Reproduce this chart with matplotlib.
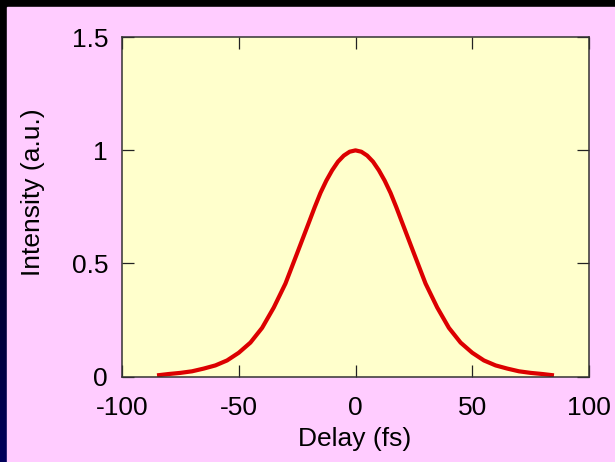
import matplotlib
matplotlib.use("Agg")
import matplotlib.pyplot as plt
import numpy as np
from matplotlib.patches import Rectangle

# values
delay_fs = [-85, -80, -75, -70, -65, -60, -55, -50, -45, -40, -35, -30, -25,
            -20, -17.5, -15, -12.5, -10, -7.5, -5, -2.5, 0, 2.5, 5, 7.5, 10,
            12.5, 15, 17.5, 20, 25, 30, 35, 40, 45, 50, 55, 60, 65, 70, 75,
            80, 85]
intensity = [0.005, 0.011, 0.016, 0.023, 0.035, 0.049, 0.071, 0.105, 0.150,
             0.215, 0.305, 0.411, 0.545, 0.680, 0.748, 0.812, 0.866, 0.912,
             0.950, 0.977, 0.994, 1.000, 0.994, 0.977, 0.950, 0.912, 0.866,
             0.812, 0.748, 0.680, 0.545, 0.411, 0.305, 0.215, 0.150, 0.105,
             0.071, 0.049, 0.035, 0.023, 0.016, 0.011, 0.005]
x_ticks = [-100, -50, 0, 50, 100]
x_tick_labels = ["-100", "-50", "0", "50", "100"]
y_ticks = [0, 0.5, 1, 1.5]
y_tick_labels = ["0", "0.5", "1", "1.5"]

W, H = 615, 462
plt.rcParams['font.family'] = ['Liberation Sans', 'DejaVu Sans']

fig = plt.figure(figsize=(W / 100, H / 100), dpi=100)

# slide background: dark gradient with a pink panel on top
bg = fig.add_axes([0, 0, 1, 1], zorder=-10)
grad = np.linspace(0, 1, 256).reshape(-1, 1)
cols = np.zeros((256, 1, 3))
cols[:, 0, 2] = grad[:, 0] ** 1.3 * 0.36
bg.imshow(cols, aspect='auto', extent=[0, 1, 0, 1], origin='upper')
bg.add_patch(Rectangle((7 / W, 0), 1, (H - 7) / H, color='#ffccff',
                       transform=bg.transAxes))
bg.set_xlim(0, 1)
bg.set_ylim(0, 1)
bg.axis('off')

ax = fig.add_axes([122 / W, 1 - 376.5 / H, (589 - 122) / W, (376.5 - 37.3) / H])
ax.set_facecolor('#ffffcc')
ax.plot(delay_fs, intensity, color='#dc0000', lw=3.0, solid_capstyle='butt',
        solid_joinstyle='round')

ax.set_xlim(-100, 100)
ax.set_ylim(0, 1.5)
ax.set_xticks(x_ticks)
ax.set_xticklabels(x_tick_labels)
ax.set_yticks(y_ticks)
ax.set_yticklabels(y_tick_labels)
ax.tick_params(direction='in', length=8.6, width=0.9, color='#222222',
               top=True, right=True, labelsize=19)
ax.tick_params(axis='x', pad=14)
ax.tick_params(axis='y', pad=10)
for s in ax.spines.values():
    s.set_color('#333333')
    s.set_linewidth(1.1)

fig.text(33 / W, 1 - 192.5 / H, "Intensity (a.u.)", rotation=90,
         ha='center', va='center', fontsize=19)
fig.text(354.5 / W, 1 - 439 / H, "Delay (fs)", ha='center', va='center',
         fontsize=19)

fig.savefig("out.png", dpi=100)
